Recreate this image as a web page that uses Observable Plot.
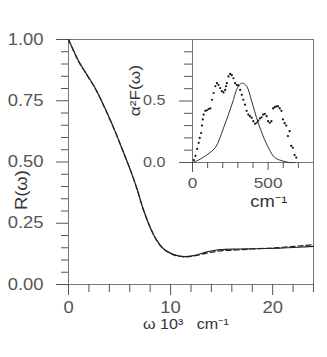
<!DOCTYPE html>
<html><head><meta charset="utf-8">
<script src="https://cdn.jsdelivr.net/npm/d3@7"></script>
<script src="https://cdn.jsdelivr.net/npm/@observablehq/plot@0.6"></script>
<style>
body{margin:0;background:#fff}
#chart{position:relative;width:327px;height:357px;background:#fff}
#chart svg{position:absolute;left:0;top:0;background:transparent;font-family:'Liberation Sans',Arial,Helvetica,sans-serif;font-size:16px}
</style></head><body><div id="chart"></div>
<script>
// Main panel: reflectivity R(ω), ω in 10^3 cm^-1
const omega   = [0, 0.7, 1.0, 1.65, 2.65, 3.6, 4.6, 5.25, 6.05, 6.7, 7.35, 8.0, 8.65, 9.3, 10.3, 11.3, 12.25, 13.55, 14.85, 16.5, 18, 19.5, 21, 22.5, 24];
const rSolid  = [1.0, 0.937, 0.911, 0.867, 0.799, 0.717, 0.622, 0.554, 0.469, 0.392, 0.304, 0.234, 0.18, 0.146, 0.122, 0.114, 0.118, 0.133, 0.142, 0.145, 0.146, 0.147, 0.149, 0.152, 0.156];
const rDashed = [1.0, 0.935, 0.909, 0.865, 0.797, 0.716, 0.621, 0.553, 0.468, 0.391, 0.303, 0.233, 0.179, 0.145, 0.121, 0.113, 0.116, 0.128, 0.137, 0.141, 0.145, 0.148, 0.152, 0.157, 0.163];

// Inset: α²F(ω), ω in cm^-1
const modelFreq  = [0, 40, 85, 150, 205, 260, 303, 330, 358, 391, 435, 490, 544, 598, 640, 680];
const modelValue = [0, 0.02, 0.054, 0.12, 0.28, 0.47, 0.62, 0.645, 0.62, 0.50, 0.32, 0.15, 0.04, 0.012, 0, 0];
const dotFreq  = [9,20,31,41,48,57,63,68,74,85,96,107,118,129,140,151,162,172,183,194,205,216,221,227,238,249,260,271,282,293,303,315,326,336,347,358,369,380,391,402,413,424,434,446,457,467,478,490,500,511,522,533,544,555,566,577,588,598,609,620,631,642,653,664,675,686];
const dotValue = [0.02,0.054,0.11,0.16,0.20,0.24,0.30,0.35,0.39,0.42,0.425,0.435,0.44,0.51,0.565,0.62,0.645,0.63,0.605,0.58,0.57,0.59,0.62,0.645,0.70,0.72,0.71,0.685,0.645,0.63,0.627,0.59,0.55,0.51,0.47,0.42,0.39,0.377,0.363,0.336,0.315,0.323,0.34,0.358,0.368,0.39,0.395,0.377,0.336,0.323,0.336,0.44,0.45,0.457,0.457,0.44,0.42,0.35,0.32,0.30,0.215,0.255,0.135,0.12,0.06,0.04];

// Ticks
const mainYMajor = [0, 0.25, 0.5, 0.75, 1];
const mainYMinor = [0.05,0.1,0.15,0.2,0.3,0.35,0.4,0.45,0.55,0.6,0.65,0.7,0.8,0.85,0.9,0.95];
const mainXMajor = [0, 10, 20];
const mainXMinor = [2,4,6,8,12,14,16,18,22,24];
const insetYMajor = [0, 0.5];
const insetYMinor = [0.1,0.2,0.3,0.4,0.6,0.7,0.8,0.9];
const insetXMinor = [100,200,300,400,600,700];

// Labels
const mainYLabel = "R(ω)";
const mainXLabel = "ω 10³   cm⁻¹";
const insetYLabel = "α²F(ω)";
const insetXUnit = "cm⁻¹";

const axisColor = "#555";
const textColor = "#333";
const noText = () => "";

const mainData = omega.map((w, i) => ({w, solid: rSolid[i], dashed: rDashed[i]}));
const modelData = modelFreq.map((f, i) => ({f, v: modelValue[i]}));
const dotData = dotFreq.map((f, i) => ({f, v: dotValue[i]}));

const main = Plot.plot({
  width: 327, height: 357,
  marginLeft: 68, marginRight: 14, marginTop: 39, marginBottom: 73,
  x: {domain: [0, 24], label: null},
  y: {domain: [0, 1], label: null},
  marks: [
    Plot.frame({stroke: "#777"}),
    Plot.axisY({ticks: mainYMinor, tickSize: 7, tickFormat: noText, color: axisColor, label: null}),
    Plot.axisY({ticks: mainYMajor, tickSize: 12, tickPadding: 13, tickFormat: d3.format(".2f"), color: axisColor, fontSize: 16, label: null}),
    Plot.axisX({ticks: mainXMinor, tickSize: 8, tickFormat: noText, color: axisColor, label: null}),
    Plot.axisX({ticks: mainXMajor, tickSize: 11, tickPadding: 6, color: axisColor, fontSize: 16, label: null}),
    Plot.line(mainData, {x: "w", y: "solid", stroke: "#222", strokeWidth: 1.2, curve: "catmull-rom"}),
    Plot.line(mainData, {x: "w", y: "dashed", stroke: "#222", strokeWidth: 1.2, strokeDasharray: "5,3", curve: "catmull-rom"}),
    Plot.text([mainYLabel], {text: d => d, y: [0.385], frameAnchor: "left", dx: -47, rotate: -90, textAnchor: "middle", lineAnchor: "middle", fontSize: 16, fill: textColor}),
    Plot.text([mainXLabel], {text: d => d, frameAnchor: "bottom", dx: -5, dy: 40.5, textAnchor: "middle", lineAnchor: "middle", fontSize: 14, fill: textColor})
  ]
});

const inset = Plot.plot({
  width: 327, height: 357,
  marginLeft: 192, marginRight: 14, marginTop: 39, marginBottom: 195,
  x: {domain: [0, 800], label: null},
  y: {domain: [0, 1], label: null},
  marks: [
    Plot.frame({stroke: "#777"}),
    Plot.axisY({ticks: insetYMinor, tickSize: 8, tickFormat: noText, color: axisColor, label: null}),
    Plot.axisY({ticks: insetYMajor, tickSize: 13, tickPadding: 14, tickFormat: d3.format(".1f"), color: axisColor, fontSize: 14, label: null}),
    Plot.axisX({ticks: insetXMinor, tickSize: 6, tickFormat: noText, color: axisColor, label: null}),
    Plot.axisX({ticks: [0], tickSize: 10, tickPadding: 5, color: axisColor, fontSize: 15, label: null}),
    Plot.axisX({ticks: [500], tickSize: 8, tickPadding: 7, color: axisColor, fontSize: 15, label: null}),
    Plot.line(modelData, {x: "f", y: "v", stroke: "#333", strokeWidth: 1, curve: "catmull-rom"}),
    Plot.dot(dotData, {x: "f", y: "v", r: 1.1, fill: "#111", stroke: "none"}),
    Plot.text([insetYLabel], {text: d => d, y: [0.585], frameAnchor: "left", dx: -57, rotate: -90, textAnchor: "middle", lineAnchor: "middle", fontSize: 15, fill: textColor}),
    Plot.text([insetXUnit], {text: d => d, x: [505], frameAnchor: "bottom", dy: 39, textAnchor: "middle", lineAnchor: "middle", fontSize: 16, fill: textColor})
  ]
});

const chart = document.getElementById("chart");
chart.append(main, inset);

// Glyphs in the reference are slightly wider than Arial: stretch text horizontally
for (const svg of [main, inset]) {
  d3.select(svg).selectAll("text").each(function() {
    const t = this.getAttribute("transform");
    if (t) this.setAttribute("transform", t + " scale(1.15,1)");
  });
}
</script></body></html>
